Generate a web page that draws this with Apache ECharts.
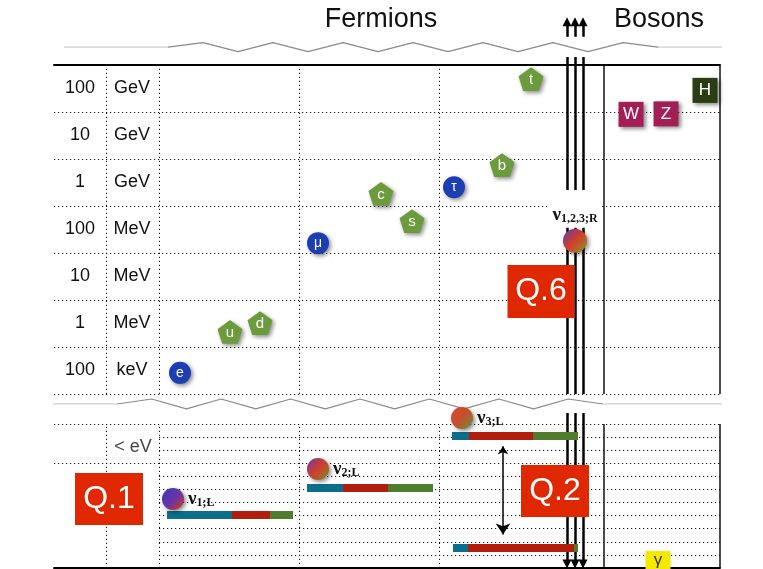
<!DOCTYPE html>
<html>
<head>
<meta charset="utf-8">
<script src="https://cdn.jsdelivr.net/npm/echarts@6/dist/echarts.min.js"></script>
<style>
  html, body { margin: 0; padding: 0; background: #fff; }
  #chart { width: 763px; height: 569px; }
</style>
</head>
<body>
<div id="chart"></div>
<script>
// upper panel: rows of the mass scale, bottom to top
var massNumbers = ['100', '1', '10', '100', '1', '10', '100'];
var massUnits = ['keV', 'MeV', 'MeV', 'MeV', 'GeV', 'GeV', 'GeV'];

// charged fermions: [column, log10(mass / eV)] as drawn
var quarkNames = ['u', 'd', 's', 'c', 'b', 't'];
var quarkPos = [[230, 5.82], [260, 6.01], [412, 8.18], [381, 8.76], [502, 9.37], [531, 11.2]];
var leptonNames = ['e', 'μ', 'τ'];
var leptonPos = [[180, 4.95], [318, 7.71], [454, 8.9]];

// bosons
var bosonNames = ['W', 'Z', 'H'];
var bosonPos = [[631, 10.45], [666, 10.46], [705, 10.96]];
var bosonColors = ['#a31e55', '#a31e55', '#2a3c12'];

// right-handed neutrinos
var nuRPos = [575, 7.76];

// lower panel (< eV): light neutrinos, row units
var nuLNames = ['1;L', '2;L', '3;L'];
var nuLPos = [[173, 5.27], [318, 7.56], [462, 11.46]];
// flavour content bars: row and segment edges (e, mu, tau)
var mixRows = [4.05, 6.15, 10.08, 1.53];
var mixEdges = [[167, 232, 270, 293], [307, 343, 388, 433], [452, 469, 533, 578], [453, 468, 574, 578]];
var flavourColors = ['#0b6e8b', '#b31e0c', '#4f7d2c'];

var questions = ['Q.1', 'Q.2', 'Q.6'];

(function () {
  var el = document.getElementById('chart');
  var chart = echarts.init(el);

  var dotted = [1.2, 2.8];
  var ruleColor = '#111';
  var shadow = { opacity: 1, shadowBlur: 4, shadowOffsetX: 2, shadowOffsetY: 2, shadowColor: 'rgba(0,0,0,0.45)' };
  var sans = '"Liberation Sans", Arial, sans-serif';
  var serif = '"Liberation Serif", "Times New Roman", serif';
  var pentagon = 'path://M12,0 L23.4,8.3 L19.1,21.7 L4.9,21.7 L0.6,8.3 Z';
  var tripleCols = [567, 575, 583];

  function grad(stops) {
    return new echarts.graphic.LinearGradient(0, 0, 1, 1, stops.map(function (c) {
      return { offset: c[0], color: c[1] };
    }));
  }
  var nuFills = [
    grad([[0, '#3b36b8'], [0.55, '#6a35a6'], [0.9, '#c73a2a']]),
    grad([[0, '#6e38ae'], [0.5, '#cf3f2a'], [1, '#7b8a2a']]),
    grad([[0, '#e0452c'], [0.5, '#c4502a'], [1, '#64953a']])
  ];
  var nuRFill = grad([[0, '#6438b2'], [0.5, '#d0402a'], [1, '#8a9a2a']]);

  function nuLabel(sub) {
    return '{n|ν}{s|' + sub + '}';
  }
  var nuRich = {
    n: { fontFamily: serif, fontWeight: 'bold', fontSize: 19, color: '#111' },
    s: { fontFamily: serif, fontWeight: 'bold', fontSize: 12, color: '#111', padding: [8, 0, 0, 0] }
  };

  function zigzag(x0, x1, n, mid, amp) {
    var pts = [[x0, mid]];
    for (var i = 0; i < n; i++) {
      pts.push([x0 + (i + 1) * (x1 - x0) / (n + 1), mid + (i % 2 === 0 ? amp : -amp)]);
    }
    pts.push([x1, mid]);
    return pts;
  }

  var barLines = [];
  mixEdges.forEach(function (edges, k) {
    for (var j = 0; j < 3; j++) {
      if (edges[j + 1] > edges[j]) {
        barLines.push({
          coords: [[edges[j], mixRows[k]], [edges[j + 1], mixRows[k]]],
          lineStyle: { color: flavourColors[j] }
        });
      }
    }
  });

  var upperShafts = [], upperHeads = [], lowerShafts = [];
  tripleCols.forEach(function (x) {
    upperShafts.push({ coords: [[x, 11.67], [x, 8.84]] });
    upperShafts.push({ coords: [[x, 8.12], [x, 4.5]] });
    upperHeads.push({ coords: [[x, 12.1], [x, 12.42]] });
    lowerShafts.push({ coords: [[x, 11.84], [x, 0.3]] });
  });

  var lowerRows = [];
  for (var r = 1; r <= 11; r++) {
    var full = (r === 8 || r === 11);
    lowerRows.push([{ coord: [full ? 54 : 159, r] }, { coord: [720, r] }]);
  }

  var vLineMarks = function (extra) {
    return [106, 159, 299, 439].map(function (x) { return { xAxis: x }; }).concat([
      { xAxis: 604, lineStyle: { type: 'solid', color: '#111', width: 1.5 } },
      { xAxis: 720, lineStyle: { type: 'solid', color: '#111', width: 1.5 } }
    ]).concat(extra || []);
  };

  var option = {
    animation: false,
    backgroundColor: '#fff',
    grid: [
      { left: 54, right: 43, top: 65, height: 329 },
      { left: 54, right: 43, top: 424, height: 144 }
    ],
    xAxis: [
      {
        gridIndex: 0, type: 'value', min: 54, max: 720, position: 'top',
        axisLine: { lineStyle: { color: '#000', width: 2 } },
        axisTick: { show: false }, axisLabel: { show: false }, splitLine: { show: false }
      },
      {
        gridIndex: 1, type: 'value', min: 54, max: 720, position: 'bottom',
        axisLine: { lineStyle: { color: '#000', width: 2 } },
        axisTick: { show: false }, axisLabel: { show: false }, splitLine: { show: false }
      }
    ],
    yAxis: [
      { gridIndex: 0, type: 'value', min: 4.5, max: 11.5, show: false },
      {
        gridIndex: 0, type: 'category', data: massNumbers, position: 'left',
        axisLine: { show: false }, axisTick: { show: false },
        axisLabel: { inside: true, margin: 26, align: 'center', fontSize: 18, fontFamily: sans, color: '#111' },
        splitLine: { show: true, lineStyle: { type: dotted, color: ruleColor, width: 1 } }
      },
      {
        gridIndex: 0, type: 'category', data: massUnits, position: 'left',
        axisLine: { show: false }, axisTick: { show: false },
        axisLabel: { inside: true, margin: 78, align: 'center', fontSize: 18, fontFamily: sans, color: '#111' },
        splitLine: { show: false }
      },
      { gridIndex: 1, type: 'value', min: 0, max: 11, show: false }
    ],
    series: [
      // upper break line, with the column rules of the upper panel
      {
        type: 'line', xAxisIndex: 0, yAxisIndex: 0, clip: false, symbol: 'none', silent: true,
        data: zigzag(168, 658, 13, 11.88, 0.095),
        lineStyle: { color: '#8a8a8a', width: 1.2 },
        markLine: {
          silent: true, symbol: 'none', label: { show: false }, z: 2,
          lineStyle: { type: dotted, color: ruleColor, width: 1 },
          data: vLineMarks()
        }
      },
      {
        type: 'line', xAxisIndex: 0, yAxisIndex: 0, clip: false, symbol: 'none', silent: true,
        data: [[64, 11.88], [168, 11.88], null, [658, 11.88], [763, 11.88]],
        lineStyle: { color: '#d0d0d0', width: 1.2 }
      },
      // lower break line, with the rules of the lower panel
      {
        type: 'line', xAxisIndex: 1, yAxisIndex: 3, clip: false, symbol: 'none', silent: true,
        data: zigzag(117, 603, 13, 12.53, 0.38),
        lineStyle: { color: '#8a8a8a', width: 1.2 },
        markLine: {
          silent: true, symbol: 'none', label: { show: false }, z: 2,
          lineStyle: { type: dotted, color: ruleColor, width: 1 },
          data: vLineMarks(lowerRows)
        }
      },
      {
        type: 'line', xAxisIndex: 1, yAxisIndex: 3, clip: false, symbol: 'none', silent: true,
        data: [[12, 12.53], [117, 12.53], null, [603, 12.53], [743, 12.53]],
        lineStyle: { color: '#d0d0d0', width: 1.2 }
      },
      // open mass range of the neutrinos
      {
        type: 'lines', coordinateSystem: 'cartesian2d', xAxisIndex: 0, yAxisIndex: 0, clip: false,
        symbol: 'none', silent: true, z: 6,
        lineStyle: { color: '#000', width: 2.5, opacity: 1 },
        data: upperShafts
      },
      {
        type: 'lines', coordinateSystem: 'cartesian2d', xAxisIndex: 0, yAxisIndex: 0, clip: false,
        symbol: ['none', 'triangle'], symbolSize: [7, 9], silent: true, z: 6,
        lineStyle: { color: '#000', width: 2.5, opacity: 1 },
        data: upperHeads
      },
      {
        type: 'lines', coordinateSystem: 'cartesian2d', xAxisIndex: 1, yAxisIndex: 3, clip: false,
        symbol: ['none', 'triangle'], symbolSize: [7, 9], silent: true, z: 6,
        lineStyle: { color: '#000', width: 2.5, opacity: 1 },
        data: lowerShafts
      },
      // mass splitting arrow
      {
        type: 'lines', coordinateSystem: 'cartesian2d', xAxisIndex: 1, yAxisIndex: 3, clip: false,
        symbol: ['arrow', 'arrow'], symbolSize: [8, 11], silent: true, z: 6,
        lineStyle: { color: '#000', width: 1.5, opacity: 1 },
        data: [{ coords: [[503, 9.3], [503, 2.55]] }]
      },
      // flavour bars
      {
        type: 'lines', coordinateSystem: 'cartesian2d', xAxisIndex: 1, yAxisIndex: 3, clip: false,
        symbol: 'none', silent: true, z: 7,
        lineStyle: { width: 8, opacity: 1, cap: 'butt' },
        data: barLines
      },
      // quarks
      {
        type: 'scatter', xAxisIndex: 0, yAxisIndex: 0, clip: false, z: 8,
        symbol: pentagon, symbolKeepAspect: true, symbolSize: 25,
        itemStyle: Object.assign({ color: '#6b9b3c' }, shadow),
        label: { show: true, position: 'inside', formatter: '{b}', color: '#fff', fontSize: 15, fontFamily: sans, offset: [0, 1] },
        data: quarkPos.map(function (p, i) { return { name: quarkNames[i], value: p }; })
      },
      // charged leptons
      {
        type: 'scatter', xAxisIndex: 0, yAxisIndex: 0, clip: false, z: 8,
        symbol: 'circle', symbolSize: 22,
        itemStyle: Object.assign({ color: '#1d3db2' }, shadow),
        label: { show: true, position: 'inside', formatter: '{b}', color: '#fff', fontSize: 14, fontFamily: sans },
        data: leptonPos.map(function (p, i) { return { name: leptonNames[i], value: p }; })
      },
      // bosons
      {
        type: 'scatter', xAxisIndex: 0, yAxisIndex: 0, clip: false, z: 8,
        symbol: 'rect', symbolSize: 25,
        itemStyle: shadow,
        label: { show: true, position: 'inside', formatter: '{b}', color: '#fff', fontSize: 17, fontFamily: sans },
        data: bosonPos.map(function (p, i) {
          return { name: bosonNames[i], value: p, itemStyle: { color: bosonColors[i] } };
        })
      },
      // right-handed neutrinos
      {
        type: 'scatter', xAxisIndex: 0, yAxisIndex: 0, clip: false, z: 8,
        symbol: 'circle', symbolSize: 24,
        itemStyle: Object.assign({ color: nuRFill }, shadow),
        label: {
          show: true, position: 'top', distance: 1, formatter: nuLabel('1,2,3;R'), rich: nuRich,
          backgroundColor: '#fff', padding: [6, 3, 3, 3]
        },
        data: [nuRPos]
      },
      // left-handed neutrinos
      {
        type: 'scatter', xAxisIndex: 1, yAxisIndex: 3, clip: false, z: 8,
        symbol: 'circle', symbolSize: 22,
        itemStyle: shadow,
        label: { show: true, position: 'right', distance: 4, rich: nuRich },
        data: nuLPos.map(function (p, i) {
          return {
            value: p, itemStyle: { color: nuFills[i] },
            label: { formatter: nuLabel(nuLNames[i]) }
          };
        })
      },
      // photon
      {
        type: 'scatter', xAxisIndex: 1, yAxisIndex: 3, clip: false, z: 8,
        symbol: 'rect', symbolSize: 25,
        itemStyle: { color: '#f4ea00', opacity: 1 },
        label: { show: true, position: 'inside', formatter: 'γ', color: '#333', fontSize: 17, fontFamily: sans, offset: [0, -3] },
        data: [[658, 0.34]]
      },
      // open questions
      {
        type: 'scatter', xAxisIndex: 1, yAxisIndex: 3, clip: false, z: 9,
        symbol: 'rect', symbolSize: [68, 52],
        itemStyle: { color: '#e02800', opacity: 1 },
        label: { show: true, position: 'inside', formatter: '{b}', color: '#fff', fontSize: 32, fontFamily: sans },
        data: [{ name: questions[0], value: [109, 5.27] }, { name: questions[1], value: [555, 5.88] }]
      },
      {
        type: 'scatter', xAxisIndex: 0, yAxisIndex: 0, clip: false, z: 9,
        symbol: 'rect', symbolSize: [67, 53],
        itemStyle: { color: '#e02800', opacity: 1 },
        label: { show: true, position: 'inside', formatter: '{b}', color: '#fff', fontSize: 32, fontFamily: sans },
        data: [{ name: questions[2], value: [541, 6.68] }]
      },
      // "< eV" row label
      {
        type: 'scatter', xAxisIndex: 1, yAxisIndex: 3, clip: false, z: 8,
        symbolSize: 0, silent: true,
        label: { show: true, position: 'inside', formatter: '< eV', color: '#111', fontSize: 18, fontFamily: sans },
        data: [[133, 9.25]]
      }
    ],
    graphic: [
      { type: 'text', x: 381, y: 20, style: { text: 'Fermions', font: '27px ' + sans, fill: '#111', align: 'center', verticalAlign: 'middle' } },
      { type: 'text', x: 659, y: 20, style: { text: 'Bosons', font: '27px ' + sans, fill: '#111', align: 'center', verticalAlign: 'middle' } }
    ]
  };

  chart.setOption(option);
})();
</script>
</body>
</html>
